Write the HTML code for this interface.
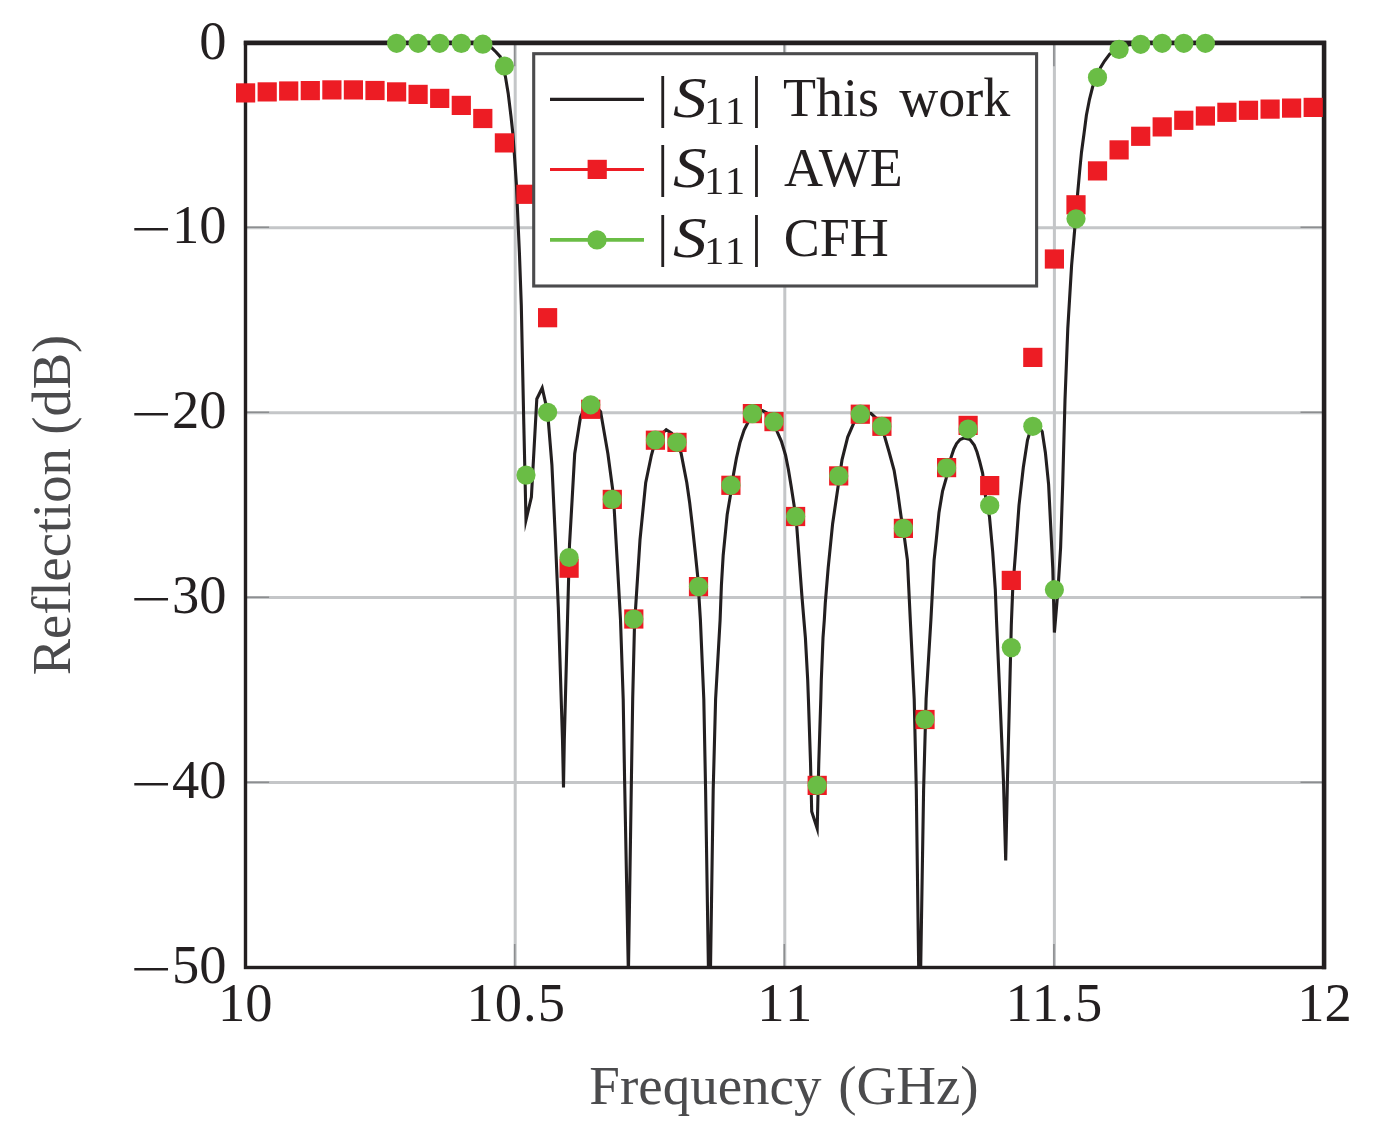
<!DOCTYPE html>
<html lang="en"><head><meta charset="utf-8"><title>Reflection vs Frequency</title>
<style>html,body{margin:0;padding:0;background:#fff}svg{display:block;will-change:transform}text{font-family:"Liberation Serif","DejaVu Serif",serif}</style></head><body>
<svg width="1382" height="1139" viewBox="0 0 1382 1139">
<rect x="0" y="0" width="1382" height="1139" fill="#fff"/>
<path d="M515.2 42.8 V967.5 M784.8 42.8 V967.5 M1054.4 42.8 V967.5 M245.6 227.7 H1324.0 M245.6 412.7 H1324.0 M245.6 597.6 H1324.0 M245.6 782.6 H1324.0" stroke="#c4c6c8" stroke-width="3.0" fill="none"/>
<path d="M514.7 42.8 v23.5 M514.7 967.5 v-23.5 M784.3 42.8 v23.5 M784.3 967.5 v-23.5 M1053.9 42.8 v23.5 M1053.9 967.5 v-23.5 M245.6 227.3 h23.5 M1324.0 227.3 h-23.5 M245.6 412.3 h23.5 M1324.0 412.3 h-23.5 M245.6 597.2 h23.5 M1324.0 597.2 h-23.5 M245.6 782.2 h23.5 M1324.0 782.2 h-23.5" stroke="#8c8e90" stroke-width="1.6" fill="none"/>
<rect x="245.5" y="42.4" width="1079.0" height="925.1" fill="none" stroke="#231f20" stroke-width="3.4"/>
<path d="M243.8 42.95 H1326.2 M1324.0 40.7 V969.2" fill="none" stroke="#231f20" stroke-width="4.4"/>
<clipPath id="c"><rect x="243.6" y="39.8" width="1082.4" height="927.7"/></clipPath>
<polyline clip-path="url(#c)" points="245.6,43.3 470.0,43.3 482.8,43.9 488.2,45.2 492.1,48.2 496.0,52.0 500.2,56.6 505.4,76.5 508.2,93.4 511.0,116.5 512.9,134.0 514.4,155.0 516.4,184.5 517.2,203.5 519.4,252.6 521.3,305.3 522.4,357.9 523.8,424.0 526.0,520.0 531.4,497.0 536.8,399.0 542.2,388.0 547.6,412.0 551.9,464.8 555.4,539.0 558.3,607.0 562.5,740.0 563.5,787.5 564.3,740.0 569.5,545.0 572.1,500.0 574.7,453.7 580.5,416.9 585.5,406.5 590.6,404.5 596.0,406.5 600.6,411.6 607.9,453.7 612.7,489.6 614.2,509.0 617.5,566.0 620.5,620.0 623.2,699.0 624.6,780.0 628.4,975.0 631.4,780.0 632.7,699.0 634.5,625.0 640.0,539.8 645.7,482.7 651.4,455.3 655.3,441.0 660.8,434.8 666.2,429.7 671.6,433.2 676.9,441.5 681.1,453.1 686.8,482.7 689.7,503.0 692.5,527.0 695.3,553.0 697.7,576.3 700.4,620.0 703.8,699.0 705.6,790.0 709.5,1036.0 713.2,790.0 715.6,699.0 720.1,620.0 721.4,585.5 723.2,555.0 727.2,514.4 731.3,490.0 733.6,473.7 736.4,458.2 739.9,442.8 744.1,430.1 748.3,421.7 752.5,414.5 757.8,410.4 762.4,410.6 766.6,412.8 773.7,421.0 777.1,431.5 781.4,441.4 785.6,455.4 788.4,469.5 791.2,486.4 794.0,504.6 796.7,525.6 801.9,595.8 803.9,620.0 805.4,637.9 807.7,680.0 808.4,699.0 810.5,762.0 811.7,811.5 817.2,828.5 818.8,762.0 820.8,699.0 821.3,680.0 823.0,637.9 824.3,620.0 825.3,602.8 828.2,567.7 832.6,523.9 838.6,483.0 842.0,459.9 847.7,437.1 854.6,421.1 860.3,414.2 865.7,412.5 871.0,413.5 876.5,418.5 882.0,426.3 884.2,435.0 889.1,452.0 894.1,470.3 897.6,491.4 901.1,516.7 904.6,539.1 907.4,560.0 910.3,620.0 914.2,699.0 916.3,790.0 919.6,1036.0 923.6,790.0 926.1,699.0 930.9,620.0 934.1,560.0 936.2,540.5 939.0,512.4 942.5,491.4 946.1,478.7 951.0,457.6 953.8,449.2 956.6,443.6 960.1,439.6 964.3,437.9 970.0,439.6 974.2,445.0 977.0,452.0 979.8,461.8 982.6,473.1 985.3,494.9 989.5,517.0 992.7,551.8 995.3,589.7 996.5,620.0 1000.5,711.3 1003.5,782.0 1005.7,860.5 1007.4,782.0 1009.2,711.0 1011.3,625.0 1012.7,589.7 1015.9,547.6 1019.0,505.4 1023.3,467.5 1027.5,440.1 1031.0,428.5 1034.5,425.0 1038.5,426.5 1042.2,431.5 1045.4,452.7 1048.6,484.3 1050.7,526.5 1052.8,568.6 1054.4,632.5 1058.0,589.7 1060.6,547.6 1062.7,484.3 1065.0,400.0 1067.8,328.4 1071.6,265.3 1074.7,229.5 1077.6,194.0 1079.7,170.7 1081.5,152.2 1084.0,133.8 1086.4,115.3 1089.5,99.3 1092.6,87.0 1096.6,77.2 1100.6,67.4 1104.5,61.0 1109.7,54.1 1119.0,48.0 1130.0,44.6 1141.0,43.7 1162.0,43.3 1324.0,43.3" fill="none" stroke="#231f20" stroke-width="3.1" stroke-linejoin="miter" stroke-miterlimit="10"/>
<g fill="#ed1c24"><rect x="236.0" y="83.3" width="19.2" height="19.2"/><rect x="257.6" y="82.3" width="19.2" height="19.2"/><rect x="279.1" y="81.4" width="19.2" height="19.2"/><rect x="300.7" y="81.0" width="19.2" height="19.2"/><rect x="322.3" y="80.3" width="19.2" height="19.2"/><rect x="343.8" y="80.3" width="19.2" height="19.2"/><rect x="365.4" y="80.9" width="19.2" height="19.2"/><rect x="387.0" y="82.3" width="19.2" height="19.2"/><rect x="408.5" y="84.8" width="19.2" height="19.2"/><rect x="430.1" y="88.8" width="19.2" height="19.2"/><rect x="451.7" y="95.8" width="19.2" height="19.2"/><rect x="473.2" y="108.9" width="19.2" height="19.2"/><rect x="494.8" y="133.3" width="19.2" height="19.2"/><rect x="516.4" y="184.7" width="19.2" height="19.2"/><rect x="538.0" y="308.1" width="19.2" height="19.2"/><rect x="559.5" y="558.6" width="19.2" height="19.2"/><rect x="581.1" y="399.7" width="19.2" height="19.2"/><rect x="602.7" y="489.8" width="19.2" height="19.2"/><rect x="624.2" y="609.4" width="19.2" height="19.2"/><rect x="645.8" y="430.6" width="19.2" height="19.2"/><rect x="667.4" y="432.8" width="19.2" height="19.2"/><rect x="688.9" y="577.0" width="19.2" height="19.2"/><rect x="721.3" y="475.7" width="19.2" height="19.2"/><rect x="742.8" y="404.0" width="19.2" height="19.2"/><rect x="764.4" y="412.0" width="19.2" height="19.2"/><rect x="786.0" y="506.9" width="19.2" height="19.2"/><rect x="807.6" y="775.8" width="19.2" height="19.2"/><rect x="829.1" y="466.3" width="19.2" height="19.2"/><rect x="850.7" y="404.6" width="19.2" height="19.2"/><rect x="872.3" y="416.7" width="19.2" height="19.2"/><rect x="893.8" y="518.8" width="19.2" height="19.2"/><rect x="915.4" y="709.9" width="19.2" height="19.2"/><rect x="937.0" y="458.0" width="19.2" height="19.2"/><rect x="958.5" y="415.8" width="19.2" height="19.2"/><rect x="980.1" y="476.0" width="19.2" height="19.2"/><rect x="1001.7" y="570.8" width="19.2" height="19.2"/><rect x="1023.2" y="347.8" width="19.2" height="19.2"/><rect x="1044.8" y="249.4" width="19.2" height="19.2"/><rect x="1066.4" y="195.2" width="19.2" height="19.2"/><rect x="1087.9" y="161.3" width="19.2" height="19.2"/><rect x="1109.5" y="140.3" width="19.2" height="19.2"/><rect x="1131.1" y="126.7" width="19.2" height="19.2"/><rect x="1152.6" y="117.3" width="19.2" height="19.2"/><rect x="1174.2" y="110.7" width="19.2" height="19.2"/><rect x="1195.8" y="106.4" width="19.2" height="19.2"/><rect x="1217.3" y="102.7" width="19.2" height="19.2"/><rect x="1238.9" y="100.7" width="19.2" height="19.2"/><rect x="1260.5" y="99.5" width="19.2" height="19.2"/><rect x="1282.0" y="98.5" width="19.2" height="19.2"/><rect x="1303.6" y="97.8" width="19.2" height="19.2"/></g>
<g fill="#6abd45"><circle cx="396.6" cy="43.3" r="9.6"/><circle cx="418.1" cy="43.3" r="9.6"/><circle cx="439.7" cy="43.3" r="9.6"/><circle cx="461.3" cy="43.4" r="9.6"/><circle cx="482.8" cy="44.2" r="9.6"/><circle cx="504.4" cy="66.0" r="9.6"/><circle cx="526.0" cy="475.1" r="9.6"/><circle cx="547.6" cy="412.3" r="9.6"/><circle cx="569.1" cy="557.5" r="9.6"/><circle cx="590.7" cy="404.8" r="9.6"/><circle cx="612.3" cy="499.4" r="9.6"/><circle cx="633.8" cy="619.0" r="9.6"/><circle cx="655.4" cy="440.0" r="9.6"/><circle cx="677.0" cy="442.3" r="9.6"/><circle cx="698.5" cy="586.6" r="9.6"/><circle cx="730.9" cy="485.3" r="9.6"/><circle cx="752.4" cy="413.6" r="9.6"/><circle cx="774.0" cy="421.6" r="9.6"/><circle cx="795.6" cy="516.5" r="9.6"/><circle cx="817.2" cy="785.4" r="9.6"/><circle cx="838.7" cy="475.9" r="9.6"/><circle cx="860.3" cy="414.2" r="9.6"/><circle cx="881.9" cy="426.3" r="9.6"/><circle cx="903.4" cy="528.4" r="9.6"/><circle cx="925.0" cy="719.5" r="9.6"/><circle cx="946.6" cy="467.9" r="9.6"/><circle cx="968.1" cy="429.0" r="9.6"/><circle cx="989.7" cy="505.4" r="9.6"/><circle cx="1011.3" cy="647.6" r="9.6"/><circle cx="1032.8" cy="426.3" r="9.6"/><circle cx="1054.4" cy="589.7" r="9.6"/><circle cx="1076.0" cy="218.8" r="9.6"/><circle cx="1097.5" cy="77.4" r="9.6"/><circle cx="1119.1" cy="49.4" r="9.6"/><circle cx="1140.7" cy="44.3" r="9.6"/><circle cx="1162.2" cy="43.3" r="9.6"/><circle cx="1183.8" cy="43.3" r="9.6"/><circle cx="1205.4" cy="43.3" r="9.6"/></g>
<rect x="533.7" y="53.7" width="502.9" height="232.3" fill="#fff" stroke="#4b4b4d" stroke-width="3.1"/>
<path d="M550 99.4 H644" stroke="#231f20" stroke-width="3.1"/>
<path d="M550 169.4 H644" stroke="#ed1c24" stroke-width="3.0"/>
<rect x="587.6" y="159.8" width="19.2" height="19.2" fill="#ed1c24"/>
<path d="M550 239.9 H644" stroke="#6abd45" stroke-width="3.9"/>
<circle cx="597" cy="239.9" r="9.7" fill="#6abd45"/>
<text x="657.0" y="115.5" font-size="57.2" fill="#231f20">|</text>
<text x="750.8" y="115.5" font-size="57.2" fill="#231f20">|</text>
<text transform="translate(672.9,116.7) scale(1.185,1)" font-size="57" font-style="italic" fill="#231f20">S</text>
<text x="704.3" y="124.0" font-size="40" letter-spacing="2.3" fill="#231f20">11</text>
<text x="783" y="115.7" font-size="54" fill="#231f20" word-spacing="6.8">This work</text>
<text x="657.0" y="185.3" font-size="57.2" fill="#231f20">|</text>
<text x="750.8" y="185.3" font-size="57.2" fill="#231f20">|</text>
<text transform="translate(672.9,186.6) scale(1.185,1)" font-size="57" font-style="italic" fill="#231f20">S</text>
<text x="704.3" y="193.9" font-size="40" letter-spacing="2.3" fill="#231f20">11</text>
<text x="783" y="185.6" font-size="54" fill="#231f20" dx="1">AWE</text>
<text x="657.0" y="255.3" font-size="57.2" fill="#231f20">|</text>
<text x="750.8" y="255.3" font-size="57.2" fill="#231f20">|</text>
<text transform="translate(672.9,256.6) scale(1.185,1)" font-size="57" font-style="italic" fill="#231f20">S</text>
<text x="704.3" y="263.9" font-size="40" letter-spacing="2.3" fill="#231f20">11</text>
<text x="783" y="255.6" font-size="54" fill="#231f20" dx="0.8">CFH</text>
<text x="226.5" y="58.5" font-size="54.5" text-anchor="end" fill="#231f20">0</text>
<text x="226.5" y="243.4" font-size="54.5" text-anchor="end" fill="#231f20">10</text>
<text transform="translate(131.0,244.9) scale(1.332,0.87)" font-size="54.5" fill="#231f20">−</text>
<text x="226.5" y="428.4" font-size="54.5" text-anchor="end" fill="#231f20">20</text>
<text transform="translate(131.0,429.9) scale(1.332,0.87)" font-size="54.5" fill="#231f20">−</text>
<text x="226.5" y="613.3" font-size="54.5" text-anchor="end" fill="#231f20">30</text>
<text transform="translate(131.0,614.8) scale(1.332,0.87)" font-size="54.5" fill="#231f20">−</text>
<text x="226.5" y="798.3" font-size="54.5" text-anchor="end" fill="#231f20">40</text>
<text transform="translate(131.0,799.8) scale(1.332,0.87)" font-size="54.5" fill="#231f20">−</text>
<text x="226.5" y="983.2" font-size="54.5" text-anchor="end" fill="#231f20">50</text>
<text transform="translate(131.0,984.7) scale(1.332,0.87)" font-size="54.5" fill="#231f20">−</text>
<text x="245.3" y="1021.0" font-size="54.5" text-anchor="middle" letter-spacing="0.0" fill="#231f20">10</text>
<text x="516.2" y="1021.0" font-size="54.5" text-anchor="middle" letter-spacing="1.0" fill="#231f20">10.5</text>
<text x="786.1" y="1021.0" font-size="54.5" text-anchor="middle" letter-spacing="2.7" fill="#231f20">11</text>
<text x="1054.5" y="1021.0" font-size="54.5" text-anchor="middle" letter-spacing="1.2" fill="#231f20">11.5</text>
<text x="1324.5" y="1021.0" font-size="54.5" text-anchor="middle" letter-spacing="0" fill="#231f20">12</text>
<text x="784" y="1103.9" font-size="55" text-anchor="middle" fill="#4b4b4d" word-spacing="3">Frequency (GHz)</text>
<text transform="translate(70,505) rotate(-90)" font-size="54.5" text-anchor="middle" fill="#4b4b4d">Reflection (dB)</text>
</svg></body></html>
